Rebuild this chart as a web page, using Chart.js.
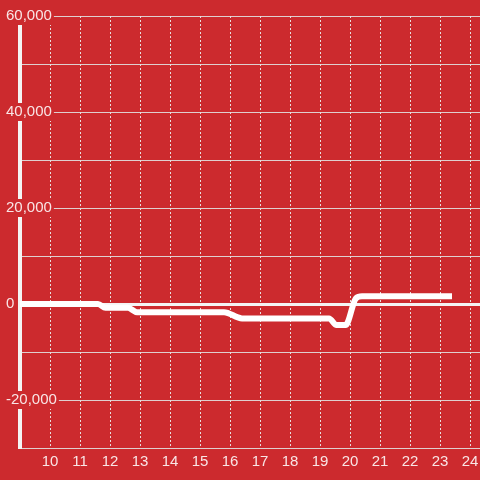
<!DOCTYPE html>
<html>
<head>
<meta charset="utf-8">
<script src="https://cdn.jsdelivr.net/npm/chart.js@4"></script>
<style>
  html, body { margin: 0; padding: 0; background: #cc2a2e; }
  #wrap { width: 480px; height: 480px; }
</style>
</head>
<body>
<div id="wrap"><canvas id="chart" width="480" height="480"></canvas></div>
<script>
// значения
const hours = [9, 11.6, 11.85, 12.6, 12.9, 15.8, 16.4, 19.3, 19.55, 19.85, 20.2, 20.4, 23.4];
const values = [0, 0, -800, -800, -1700, -1700, -3000, -3000, -4400, -4400, 1200, 1600, 1600];
const xTicks = [10, 11, 12, 13, 14, 15, 16, 17, 18, 19, 20, 21, 22, 23, 24];
const yTicks = [-20000, 0, 20000, 40000, 60000];

const ctx = document.getElementById("chart").getContext("2d");
const textColor = "rgba(255, 255, 255, 0.88)";

new Chart(ctx, {
  type: "line",
  data: {
    datasets: [{
      data: hours.map((h, i) => ({ x: h, y: values[i] })),
      borderColor: "#ffffff",
      borderWidth: 6,
      pointRadius: 0,
      cubicInterpolationMode: "monotone",
    }],
  },
  options: {
    responsive: false,
    animation: false,
    layout: { padding: { left: 20, top: 16, right: 0, bottom: 4 } },
    plugins: { legend: { display: false }, tooltip: { enabled: false } },
    scales: {
      x: {
        type: "linear",
        min: 9,
        max: 24.333,
        afterBuildTicks: (axis) => {
          axis.ticks = xTicks.map((v) => ({ value: v }));
        },
        afterFit: (axis) => {
          axis.paddingLeft = 0;
          axis.paddingRight = 0;
        },
        grid: { color: "rgba(232, 232, 232, 0.95)", drawTicks: false },
        border: { display: false, dash: [2, 2] },
        ticks: { color: textColor, padding: 5, maxRotation: 0, font: { family: "Liberation Sans", size: 15 } },
      },
      y: {
        type: "linear",
        min: -30000,
        max: 60000,
        afterFit: (axis) => {
          axis.width = 0; // подписи поверх области графика
        },
        ticks: {
          stepSize: 10000,
          mirror: true,
          padding: -14,
          color: textColor,
          font: { family: "Liberation Sans", size: 15 },
          showLabelBackdrop: true,
          backdropColor: "#cc2a2e",
          backdropPadding: { top: 0, bottom: 0, left: 2, right: 2 },
          callback: (value) => (yTicks.includes(value) ? value.toLocaleString("en-US") : ""),
        },
        grid: {
          drawTicks: false,
          color: (c) => (c.tick && c.tick.value === 0 ? "#f4f4f4" : "rgba(225, 225, 225, 0.9)"),
          lineWidth: (c) => (c.tick && c.tick.value === 0 ? 3 : 1),
        },
        border: { color: "#f4f4f4", width: 4 },
      },
    },
  },
});
</script>
</body>
</html>
